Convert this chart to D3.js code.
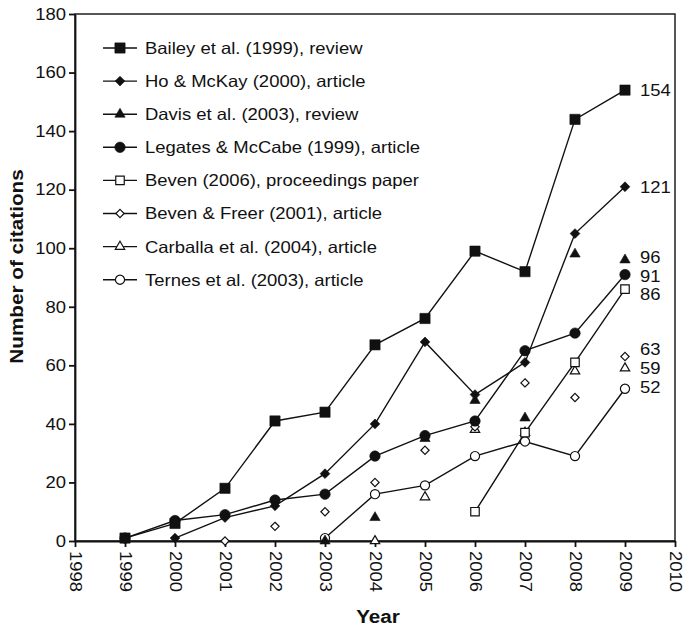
<!DOCTYPE html>
<html>
<head>
<meta charset="utf-8">
<title>Citations per year</title>
<script src="https://d3js.org/d3.v7.min.js"></script>
<style>
    body { margin: 0; background: #fff; }
    svg text { font-family: "Liberation Sans", Arial, sans-serif; fill: #111; }
    .axis path, .axis line { stroke: #111; stroke-width: 1.8px; }
    .frame { fill: none; stroke: #111; stroke-width: 1.4px; }
    .series-line { fill: none; stroke: #111; stroke-width: 1.4px; }
</style>
</head>
<body>
<div id="chart"></div>
<script>
    // data
    const years = [1999, 2000, 2001, 2002, 2003, 2004, 2005, 2006, 2007, 2008, 2009];
    const bailey     = [1, 6, 18, 41, 44, 67, 76, 99, 92, 144, 154];
    const hoMcKay    = [null, 1, 8, 12, 23, 40, 68, 50, 61, 105, 121];
    const davis      = [null, null, null, null, 0, 8, 35, 48, 42, 98, 96];
    const legates    = [1, 7, 9, 14, 16, 29, 36, 41, 65, 71, 91];
    const beven      = [null, null, null, null, null, null, null, 10, 37, 61, 86];
    const bevenFreer = [null, null, 0, 5, 10, 20, 31, 39, 54, 49, 63];
    const carballa   = [null, null, null, null, null, 0, 15, 38, 37, 58, 59];
    const ternes     = [null, null, null, null, 1, 16, 19, 29, 34, 29, 52];

    const seriesNames = [
        "Bailey et al. (1999), review",
        "Ho & McKay (2000), article",
        "Davis et al. (2003), review",
        "Legates & McCabe (1999), article",
        "Beven (2006), proceedings paper",
        "Beven & Freer (2001), article",
        "Carballa et al. (2004), article",
        "Ternes et al. (2003), article"
    ];
    const seriesValues = [bailey, hoMcKay, davis, legates, beven, bevenFreer, carballa, ternes];
    const markerTypes = ["square", "diamond", "triangle", "circle", "square", "diamond", "triangle", "circle"];
    const markerFilled = [true, true, true, true, false, false, false, false];
    const connected = [true, true, false, true, true, false, false, true];
    // small vertical nudge (px) for end labels so they do not collide
    const labelNudge = [0, 0, -3, 1, 5, -7, 0, -2];

    const xTicks = d3.range(1998, 2011);
    const yTicks = d3.range(0, 181, 20);

    const W = 683, H = 626;
    const margin = { top: 14, right: 8, bottom: 85, left: 75 };
    const width = W - margin.left - margin.right,
        height = H - margin.top - margin.bottom;
    const stretch = 1.12;   // the original lettering is a bit wider than Arial
    const fs = 16.5;

    const svg = d3.select("#chart").append("svg")
        .attr("width", W)
        .attr("height", H);

    const g = svg.append("g")
        .attr("transform", `translate(${margin.left},${margin.top})`);

    const x = d3.scaleLinear().domain([1998, 2010]).range([0, width]);
    const y = d3.scaleLinear().domain([0, 180]).range([height, 0]);

    // frame
    g.append("rect").attr("class", "frame")
        .attr("width", width).attr("height", height);

    // axes
    const xAxis = g.append("g").attr("class", "axis")
        .attr("transform", `translate(0,${height})`)
        .call(d3.axisBottom(x).tickValues(xTicks).tickFormat(d3.format("d")).tickSize(6).tickSizeOuter(0));
    xAxis.selectAll("text")
        .style("font-size", fs + "px")
        .attr("text-anchor", "start")
        .attr("transform", `translate(0,10) rotate(90) scale(${stretch},1)`)
        .attr("x", 0)
        .attr("y", 0)
        .attr("dy", "0.35em");

    const yAxis = g.append("g").attr("class", "axis")
        .call(d3.axisLeft(y).tickValues(yTicks).tickSize(6).tickSizeOuter(0));
    yAxis.selectAll("text")
        .style("font-size", fs + "px")
        .attr("x", 0)
        .attr("transform", `translate(-9,0) scale(${stretch},1)`);

    // axis titles
    g.append("text")
        .attr("transform", `translate(${width / 2 + 3},${height + 82}) scale(${stretch},1)`)
        .attr("text-anchor", "middle")
        .style("font-size", "18.5px").style("font-weight", "bold")
        .text("Year");

    g.append("text")
        .attr("transform", `translate(${-52},${height / 2 - 11}) rotate(-90) scale(${stretch},1)`)
        .attr("text-anchor", "middle")
        .style("font-size", "18.5px").style("font-weight", "bold")
        .text("Number of citations");

    // marker symbols
    const symbolDiamondSq = {
        draw(ctx, size) {
            const h = Math.sqrt(size / 2);
            ctx.moveTo(0, -h); ctx.lineTo(h, 0); ctx.lineTo(0, h); ctx.lineTo(-h, 0); ctx.closePath();
        }
    };
    const symbolFor = {
        square: d3.symbolSquare,
        diamond: symbolDiamondSq,
        triangle: d3.symbolTriangle,
        circle: d3.symbolCircle
    };
    const sizeFilled = { square: 105, diamond: 48, triangle: 46, circle: 86 };
    const sizeOpen = { square: 72, diamond: 34, triangle: 38, circle: 66 };
    function marker(sel, i) {
        const t = markerTypes[i];
        const size = markerFilled[i] ? sizeFilled[t] : sizeOpen[t];
        sel.attr("d", d3.symbol().type(symbolFor[t]).size(size))
            .attr("fill", markerFilled[i] ? "#111" : "#fff")
            .attr("stroke", "#111")
            .attr("stroke-width", markerFilled[i] ? 0.6 : 1.2);
    }

    const rows = seriesValues.map((vals, i) =>
        years.map((yr, j) => ({ year: yr, value: vals[j] })).filter(d => d.value != null));

    const line = d3.line().x(d => x(d.year)).y(d => y(d.value));

    // lines first
    rows.forEach((pts, i) => {
        if (!connected[i]) return;
        g.append("path").attr("class", "series-line").attr("d", line(pts));
    });

    // markers, drawn last series first so filled ones sit on top
    d3.range(seriesValues.length).reverse().forEach(i => {
        g.append("g").selectAll("path")
            .data(rows[i])
            .enter().append("path")
            .attr("transform", d => `translate(${x(d.year)},${y(d.value)})`)
            .call(marker, i);
    });

    // end-of-line value labels
    rows.forEach((pts, i) => {
        const last = pts[pts.length - 1];
        g.append("text")
            .attr("transform", `translate(${x(last.year) + 15},${y(last.value) + labelNudge[i]}) scale(${stretch},1)`)
            .attr("dy", "0.36em")
            .style("font-size", fs + "px")
            .text(last.value);
    });

    // legend
    const legend = g.append("g").attr("transform", "translate(28,34)");
    seriesNames.forEach((name, i) => {
        const row = legend.append("g").attr("transform", `translate(0,${i * 33.1})`);
        row.append("line").attr("x1", 0).attr("x2", 34)
            .attr("stroke", "#111").attr("stroke-width", 1.4);
        row.append("path").attr("transform", "translate(17,0)").call(marker, i);
        row.append("text").attr("transform", `translate(42,0) scale(${stretch},1)`)
            .attr("dy", "0.36em")
            .style("font-size", fs + "px").text(name);
    });
</script>
</body>
</html>
